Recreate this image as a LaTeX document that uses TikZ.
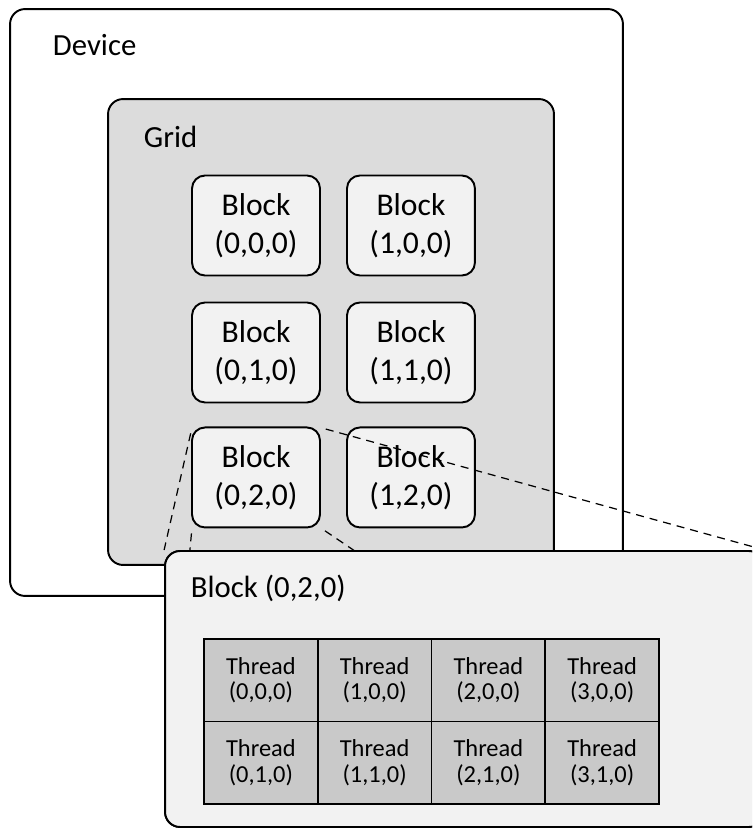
\documentclass[tikz,border=0pt]{standalone}
\usepackage{fontspec}
\setmainfont{Carlito}
\usetikzlibrary{positioning}
\definecolor{gridgray}{HTML}{DCDCDC}
\definecolor{blockgray}{HTML}{F2F2F2}
\definecolor{threadgray}{HTML}{C9C9C9}

\begin{document}
\begin{tikzpicture}[x=0.02cm,y=-0.02cm,line width=1.1pt,
    outer box/.style={draw,rounded corners=0.3cm,inner sep=0pt},
    big label/.style={anchor=base west,inner sep=0pt,font=\fontsize{17.5}{21}\selectfont},
    block node/.style={draw,fill=blockgray,rounded corners=0.26cm,minimum width=2.56cm,minimum height=2cm,inner sep=0pt,outer sep=0pt,align=center,font=\fontsize{18}{21.6}\selectfont},
    thread node/.style={draw,fill=threadgray,minimum width=2.275cm,minimum height=1.65cm,inner sep=0pt,outer sep=0pt,align=center,font=\fontsize{13.9}{14.4}\selectfont},
    zoom line/.style={dashed,dash pattern=on 0.16cm off 0.12cm,line width=0.7pt,shorten <=0.12cm}]
                \path[use as bounding box,clip] (0,0) rectangle (752,828);

                \node[outer box,minimum width=12.26cm,minimum height=11.74cm] (device) at (316.5,302.5) {};
                \node[big label] (device label) at (52,56) {Device};

                \node[outer box,fill=gridgray,minimum width=8.92cm,minimum height=9.32cm] (grid) at (331,332) {};
                \node[big label] (grid label) at (143,148) {Grid};

                \node[block node] (b000) at (256,225.5) {Block\\(0,0,0)};
                \node[block node] (b100) [right=0.54cm of b000] {Block\\(1,0,0)};
                \node[block node] (b010) [below=0.54cm of b000] {Block\\(0,1,0)};
                \node[block node] (b110) [right=0.54cm of b010] {Block\\(1,1,0)};
                \node[block node] (b020) [below=0.5cm of b010] {Block\\(0,2,0)};
                \node[block node] (b120) [right=0.54cm of b020] {Block\\(1,2,0)};

                \node[outer box,fill=blockgray,minimum width=11.98cm,minimum height=5.52cm] (zoom) at (464.5,689) {};

                \path[zoom line]
                    (b020.north west) edge (zoom.north west)
                    (b020.south west) edge[shorten >=1cm] (zoom.south west)
                    (b020.north east) edge (zoom.north east)
                    (b020.south east) edge[shorten >=1cm] (zoom.south east)
                    ;
                \node[outer box,fill=blockgray,minimum width=11.98cm,minimum height=5.52cm] at (zoom) {};
                \node[big label] (zoom label) at (190,597) {Block (0,2,0)};

                \node[thread node] (t000) at (260.9,680.25) {Thread\\(0,0,0)};
                \node[thread node] (t100) [right=0pt of t000] {Thread\\(1,0,0)};
                \node[thread node] (t200) [right=0pt of t100] {Thread\\(2,0,0)};
                \node[thread node] (t300) [right=0pt of t200] {Thread\\(3,0,0)};
                \node[thread node] (t010) [below=0pt of t000] {Thread\\(0,1,0)};
                \node[thread node] (t110) [right=0pt of t010] {Thread\\(1,1,0)};
                \node[thread node] (t210) [right=0pt of t110] {Thread\\(2,1,0)};
                \node[thread node] (t310) [right=0pt of t210] {Thread\\(3,1,0)};
            \end{tikzpicture}
\end{document}
